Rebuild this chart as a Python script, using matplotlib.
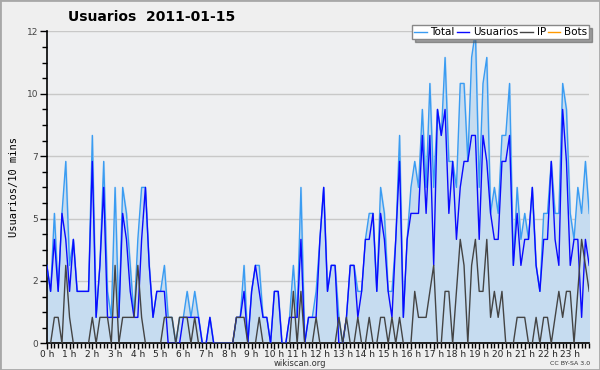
import matplotlib
matplotlib.use("Agg")
import matplotlib.pyplot as plt
from matplotlib.patches import Rectangle
from matplotlib.ticker import FixedLocator, MultipleLocator
import numpy as np

title = "Usuarios  2011-01-15"
hours = ["%d h" % h for h in range(24)]

# one value every 10 minutes, 144 per day
total = [3, 2, 5, 2, 5, 7, 3, 4, 2, 2, 2, 2, 8, 1, 3, 7, 2, 1, 6, 1,
         6, 5, 3, 1, 4, 6, 6, 3, 1, 2, 2, 3, 1, 1, 0, 1, 1, 2, 1, 2,
         1, 0, 0, 1, 0, 0, 0, 0, 0, 0, 1, 1, 3, 0, 2, 3, 3, 1, 1, 0,
         2, 2, 0, 0, 1, 3, 1, 6, 0, 1, 1, 2, 4, 6, 2, 3, 3, 1, 0, 1,
         3, 3, 2, 2, 4, 5, 5, 2, 6, 5, 2, 2, 4, 8, 1, 4, 6, 7, 6, 9,
         6, 10, 6, 9, 8, 11, 7, 7, 6, 10, 10, 7, 11, 12, 6, 10, 11, 5, 6, 5,
         8, 8, 10, 3, 6, 4, 5, 4, 6, 3, 2, 5, 5, 7, 5, 5, 10, 9, 5, 4,
         6, 5, 7, 5]
usuarios = [3, 2, 4, 2, 5, 4, 2, 4, 2, 2, 2, 2, 7, 1, 3, 6, 1, 1, 1, 1,
            5, 4, 2, 1, 1, 4, 6, 3, 1, 2, 2, 2, 0, 0, 0, 0, 1, 1, 1, 1,
            1, 0, 0, 1, 0, 0, 0, 0, 0, 0, 1, 1, 2, 0, 2, 3, 2, 1, 1, 0,
            2, 2, 0, 0, 1, 1, 1, 4, 0, 1, 1, 1, 4, 6, 2, 3, 3, 0, 0, 1,
            3, 3, 1, 2, 4, 4, 5, 2, 5, 4, 2, 1, 4, 7, 1, 4, 5, 5, 5, 8,
            5, 8, 3, 9, 8, 9, 5, 7, 4, 6, 7, 7, 8, 8, 4, 8, 7, 5, 4, 4,
            7, 7, 8, 3, 5, 3, 4, 4, 6, 3, 2, 4, 4, 7, 4, 3, 9, 7, 3, 4,
            4, 1, 4, 3]
ip = [0, 0, 1, 1, 0, 3, 1, 0, 0, 0, 0, 0, 1, 0, 1, 1, 1, 0, 3, 0,
      1, 1, 1, 1, 3, 1, 0, 0, 0, 0, 0, 1, 1, 1, 0, 1, 1, 1, 0, 1,
      0, 0, 0, 0, 0, 0, 0, 0, 0, 0, 1, 1, 1, 0, 0, 0, 1, 0, 0, 0,
      0, 0, 0, 0, 0, 2, 0, 2, 0, 0, 0, 1, 0, 0, 0, 0, 0, 1, 0, 1,
      0, 0, 1, 0, 0, 1, 0, 0, 1, 1, 0, 1, 0, 1, 0, 0, 0, 2, 1, 1,
      1, 2, 3, 0, 0, 2, 2, 0, 2, 4, 3, 0, 3, 4, 2, 2, 4, 1, 2, 1,
      2, 0, 0, 0, 1, 1, 1, 0, 0, 1, 0, 1, 1, 0, 1, 2, 1, 2, 2, 0,
      2, 4, 3, 2]
bots = [0] * 144

x = np.arange(len(total))

fig = plt.figure(figsize=(6, 3.7), dpi=100, facecolor="#efefef")
fig.patches.append(Rectangle((0, 0), 1, 1, transform=fig.transFigure,
                             fill=False, edgecolor="#a8a8a8", linewidth=2))
ax = fig.add_axes([0.078, 0.072, 0.904, 0.843])
ax.set_facecolor("#eeeff1")

ax.fill_between(x, total, color="#c6dcf0", zorder=1)
ax.plot(x, bots, color="#ff9900", lw=1, zorder=1, label="Bots")
ax.plot(x, total, color="#3a9cf2", lw=1, zorder=3, label="Total")
ax.plot(x, usuarios, color="#0a0aff", lw=1, zorder=4, label="Usuarios")
ax.plot(x, ip, color="#444444", lw=1, zorder=5, label="IP")

ax.set_xlim(0, 143)
ax.set_ylim(0, 12)
yt = [0, 2.4, 4.8, 7.2, 9.6, 12]
ax.yaxis.set_major_locator(FixedLocator(yt))
ax.set_yticklabels(["0", "2", "5", "7", "10", "12"])
ax.yaxis.set_minor_locator(MultipleLocator(0.6))
ax.xaxis.set_major_locator(FixedLocator(np.arange(24) * 6))
ax.set_xticklabels(hours)
ax.xaxis.set_minor_locator(MultipleLocator(1))
ax.tick_params(axis="y", which="major", labelsize=6.5, labelcolor="#444444",
               length=5, width=1, pad=1)
ax.tick_params(axis="x", which="major", labelsize=6.5, labelcolor="#222222",
               length=4, width=1, pad=0.5)
ax.tick_params(axis="both", which="minor", length=3.5, width=1)
ax.grid(axis="y", which="major", color="#c8c8c8", lw=1, zorder=0)
ax.set_axisbelow(True)
for s in ["top", "right"]:
    ax.spines[s].set_visible(False)
ax.spines["left"].set_linewidth(1.2)
ax.spines["bottom"].set_linewidth(1.2)

ax.set_ylabel("Usuarios/10 mins", family="DejaVu Sans Mono", fontsize=7.5, labelpad=6)
fig.text(0.252, 0.953, title, ha="center", va="center", fontsize=10, weight="bold")

handles, labels = ax.get_legend_handles_labels()
order = [1, 2, 3, 0]
leg = ax.legend([handles[i] for i in order], [labels[i] for i in order],
                loc="lower right", bbox_to_anchor=(1.0, 0.975), ncol=4,
                fontsize=7.5, handlelength=1.2, handletextpad=0.35, columnspacing=0.2,
                borderpad=0.2, borderaxespad=0, fancybox=False, shadow=True,
                framealpha=1, edgecolor="#888888", facecolor="white")

fig.text(0.5, 0.018, "wikiscan.org", ha="center", va="center", fontsize=6, color="#333333")
fig.text(0.983, 0.018, "CC BY-SA 3.0", ha="right", va="center", fontsize=4.5, color="#333333")

fig.savefig("out.png", dpi=100, facecolor=fig.get_facecolor())
